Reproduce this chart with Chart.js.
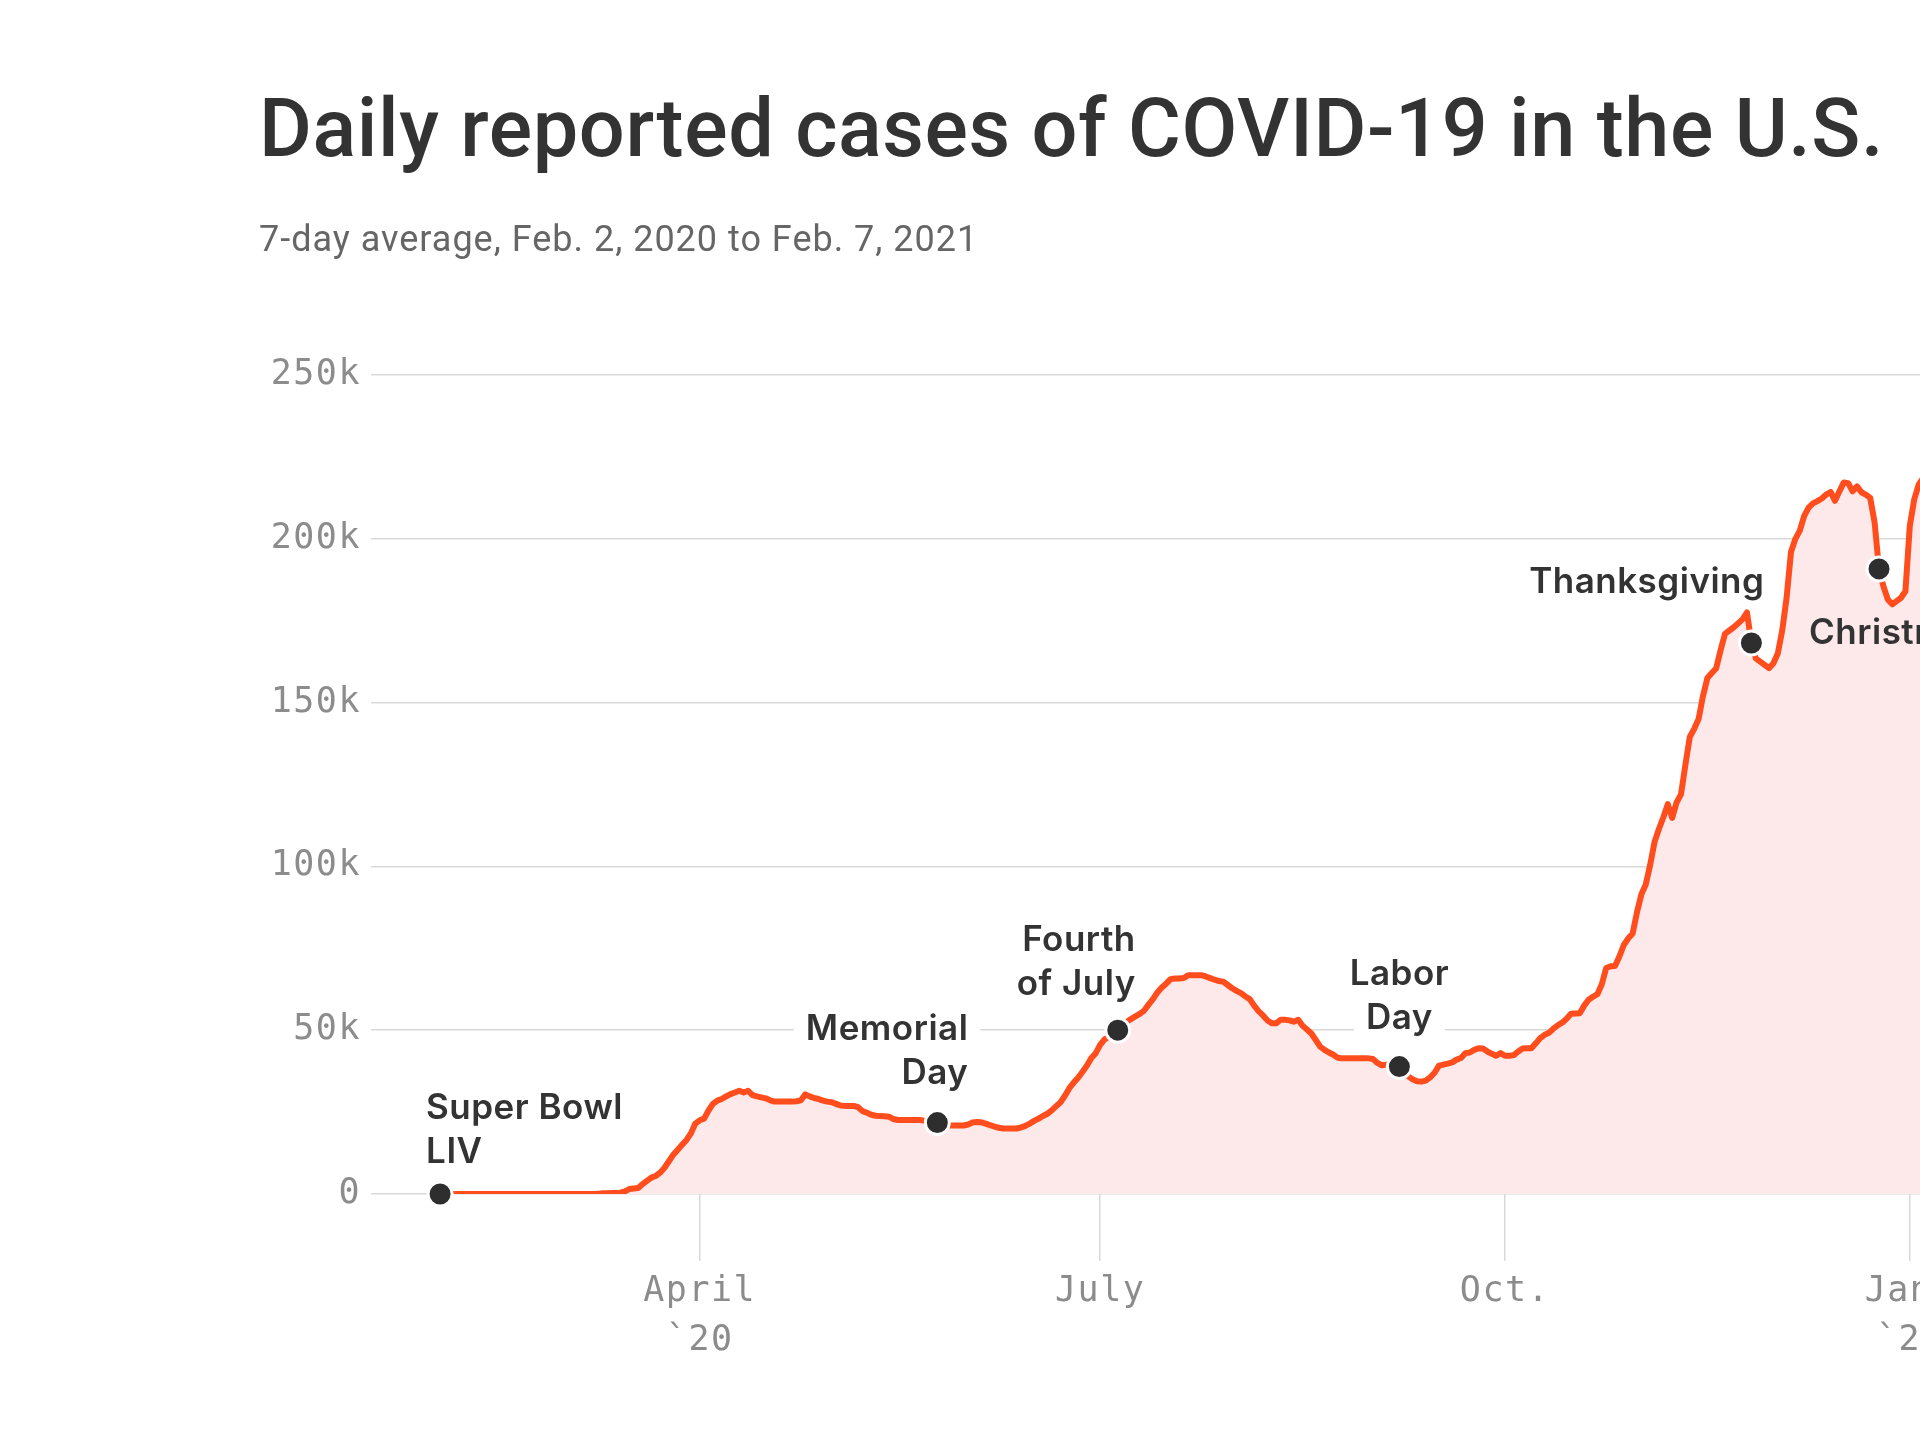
<!DOCTYPE html>
<html>
<head>
<meta charset="utf-8">
<script src="https://cdn.jsdelivr.net/npm/chart.js@4.4.1/dist/chart.umd.min.js"></script>
<style>
  html, body { margin:0; padding:0; background:#fff; overflow:hidden; width:1920px; height:1440px; }
  #wrap { position:relative; width:1920px; height:1440px; overflow:hidden; }
  #c { position:absolute; left:0; top:0; }
  #title { position:absolute; left:259px; top:88px; font-family:Roboto, sans-serif; font-weight:500;
           font-size:81px; line-height:81px; color:#333; white-space:nowrap; }
  #subtitle { position:absolute; left:259px; top:221px; font-family:Roboto, sans-serif; font-weight:400;
           font-size:36px; line-height:36px; color:#666; white-space:nowrap; }
</style>
</head>
<body>
<div id="wrap">
  <canvas id="c" width="2200" height="1440"></canvas>
  <div id="title">Daily reported cases of COVID-19 in the U.S.</div>
  <div id="subtitle">7-day average, Feb. 2, 2020 to Feb. 7, 2021</div>
</div>
<script>
// ---------- DATA ----------
const startDate = '2020-02-02';
// 7-day average of daily reported cases, in thousands, one value per day from Feb. 2, 2020 to Feb. 7, 2021
const casesK = [
  0,0,0,0,0,0,0,0,0,0, 0,0,0,0,0,0,0,0,0,0, 0,0,0,0,0,0,0,0,0,0, 0,0,0,0,0,0,0.1,0.2,0.2,0.3,
  0.3,0.4,0.8,1.5,1.7,1.8,3.0,4.0,5.0,5.5, 6.5,8.0,10.0,12.0,13.5,15.0,16.5,18.5,21.5,22.5,
  23.0,25.5,27.5,28.5,29.0,29.8,30.5,31.0,31.5,31.0, 31.5,30.2,29.8,29.5,29.2,28.6,28.2,28.2,28.2,28.2,
  28.2,28.3,28.6,30.4,29.8,29.3,29.0,28.5,28.2,28.0, 27.5,27.0,26.9,26.9,26.9,26.5,25.3,24.8,24.2,23.9,
  23.8,23.7,23.6,22.9,22.6,22.6,22.6,22.6,22.6,22.6, 22.4,22.0,21.9,21.8,21.3,21.0,20.9,20.9,20.9,20.9,
  21.2,21.8,22.0,21.9,21.5,21.0,20.6,20.2,20.0,20.0, 20.0,20.0,20.3,20.8,21.5,22.3,23.0,23.8,24.5,25.5,
  26.8,28.0,30.0,32.3,34.0,35.5,37.3,39.2,41.5,43.0, 45.5,47.2,48.0,49.0,50.0,51.2,52.5,53.4,54.2,55.0,
  56.0,57.8,59.5,61.5,63.0,64.2,65.6,65.8,65.8,65.9, 66.8,66.8,66.8,66.8,66.4,65.9,65.4,65.0,64.8,63.8,
  62.8,62.0,61.3,60.3,59.5,57.5,55.8,54.5,53.0,52.1, 52.1,53.2,53.2,53.0,52.6,53.2,51.4,50.2,49.0,47.0,
  45.0,44.0,43.2,42.5,41.6,41.4,41.4,41.4,41.4,41.4, 41.4,41.4,41.2,40.0,39.3,39.5,39.2,39.0,38.9,37.5,
  36.0,35.0,34.4,34.3,34.6,35.6,37.0,39.2,39.5,39.8, 40.2,41.0,41.5,43.0,43.2,44.0,44.5,44.4,43.5,42.8,
  42.2,43.0,42.2,42.2,42.4,43.5,44.4,44.5,44.5,46.0, 47.6,48.6,49.2,50.5,51.5,52.3,53.5,55.0,55.1,55.2,
  57.5,59.3,60.2,61.0,64.0,69.0,69.5,69.6,72.5,76.0, 78.0,79.5,86.0,91.5,94.5,100.5,107.5,111.5,115.0,119.0,
  114.8,119.5,122.0,131.0,139.5,142.0,145.0,152.0,157.5,159.0, 160.5,166.0,171.0,172.0,173.0,174.2,175.5,177.5,168.2,163.5,
  162.5,161.5,160.5,162.0,165.0,172.0,182.0,196.0,200.0,202.5, 207.0,209.5,210.8,211.5,212.3,213.5,214.3,211.6,214.5,217.2,
  217.0,214.5,216.0,214.2,213.5,212.5,205.0,190.8,185.5,181.5, 180.0,181.0,182.0,184.0,204.0,212.0,216.5,218.5,222,228,
  235,241,246,248,249,248.5,247,245,242,237, 231,224,217,209,199,192,187,182,177,171,
  164,157,151,147,143,139,135,131,127,123, 119,116
];
const yTicksK = [0, 50, 100, 150, 200, 250];
const xTickDates = ['2020-04-01', '2020-07-01', '2020-10-01', '2021-01-01'];
const xTickLabels = [['April', '`20'], ['July'], ['Oct.'], ['Jan.', '`21']];
const annoDates = ['2020-02-02', '2020-05-25', '2020-07-05', '2020-09-07', '2020-11-26', '2020-12-25'];
const annoLabels = [['Super Bowl', 'LIV'], ['Memorial', 'Day'], ['Fourth', 'of July'], ['Labor', 'Day'], ['Thanksgiving'], ['Christmas']];

// ---------- helpers ----------
const DAY = 86400000;
function dayIndex(d) { return Math.round((Date.parse(d + 'T00:00:00Z') - Date.parse(startDate + 'T00:00:00Z')) / DAY); }
const xTickDays = xTickDates.map(dayIndex);
const annoDays = annoDates.map(dayIndex);
const linePoints = casesK.map((v, i) => ({ x: i, y: v }));
const annoPoints = annoDays.map(d => ({ x: d, y: casesK[d] }));

// label placement (style, not data): baseline of last line relative to dot
const annoPlacement = [
  { align: 'left',   dx: -14, dy: -31 },
  { align: 'right',  dx: 31,  dy: -39 },
  { align: 'right',  dx: 18,  dy: -35 },
  { align: 'center', dx: 0,   dy: -38 },
  { align: 'right',  dx: 13,  dy: -50 },
  { align: 'left',   dx: -70, dy: 75 }
];
const LABEL_FONT = '600 35px Inter';
const LABEL_SPACING = '0.5px';
const LABEL_LH = 44;

function labelLayout(chart) {
  const meta = chart.getDatasetMeta(0);
  const out = [];
  meta.data.forEach((pt, k) => {
    const p = annoPlacement[k];
    const lines = annoLabels[k];
    lines.forEach((txt, j) => {
      out.push({ txt, align: p.align, x: pt.x + p.dx, y: pt.y + p.dy - (lines.length - 1 - j) * LABEL_LH });
    });
  });
  return out;
}

const tickSpacing = {
  id: 'tickSpacing',
  beforeDraw(chart) { chart.ctx.letterSpacing = '1.5px'; },
  beforeDatasetsDraw(chart) { chart.ctx.letterSpacing = '0px'; }
};

const annoPlugin = {
  id: 'anno',
  beforeDatasetsDraw(chart) {
    const ctx = chart.ctx;
    ctx.save();
    ctx.font = LABEL_FONT;
    ctx.letterSpacing = LABEL_SPACING;
    ctx.fillStyle = '#ffffff';
    labelLayout(chart).forEach(l => {
      const w = ctx.measureText(l.txt).width;
      let left = l.align === 'left' ? l.x : l.align === 'right' ? l.x - w : l.x - w / 2;
      ctx.fillRect(left - 12, l.y - 34, w + 24, 46);
    });
    ctx.restore();
  },
  afterDatasetsDraw(chart) {
    const ctx = chart.ctx;
    ctx.save();
    ctx.font = LABEL_FONT;
    ctx.letterSpacing = LABEL_SPACING;
    ctx.fillStyle = '#333333';
    ctx.textBaseline = 'alphabetic';
    labelLayout(chart).forEach(l => {
      ctx.textAlign = l.align;
      ctx.fillText(l.txt, l.x, l.y);
    });
    ctx.restore();
  }
};

const tickFont = { family: 'DejaVu Sans Mono', size: 35, lineHeight: 1.4 };

function build() {
  new Chart(document.getElementById('c'), {
    type: 'line',
    data: {
      datasets: [
        { type: 'scatter', data: annoPoints, pointRadius: 12, pointHoverRadius: 12,
          pointBackgroundColor: '#2e2e2e', pointBorderColor: '#ffffff', pointBorderWidth: 3,
          showLine: false, clip: false, order: 0 },
        { type: 'line', data: linePoints, borderColor: '#ff4d1d', borderWidth: 6,
          backgroundColor: '#fde9e9', fill: 'origin', pointRadius: 0, tension: 0,
          borderJoinStyle: 'round', borderCapStyle: 'round', order: 1 }
      ]
    },
    options: {
      responsive: false, animation: false, devicePixelRatio: 1, events: [],
      layout: { padding: { top: 375, right: 20, left: 0, bottom: 0 } },
      plugins: { legend: { display: false }, tooltip: { enabled: false }, title: { display: false } },
      scales: {
        x: {
          type: 'linear', min: -15.7, max: 395.4,
          border: { display: false },
          grid: { display: true, drawOnChartArea: false, drawTicks: true, tickLength: 67, color: '#d9d9d9', lineWidth: 1.5 },
          ticks: { autoSkip: false, maxRotation: 0, minRotation: 0, padding: 6, color: '#8c8c8c', font: tickFont,
                   callback: (v, i) => xTickLabels[i] },
          afterBuildTicks: s => { s.ticks = xTickDays.map(v => ({ value: v })); },
          afterFit: s => { s.height = 246; }
        },
        y: {
          min: 0, max: 250,
          border: { display: false },
          grid: { color: '#d9d9d9', lineWidth: 1.5, drawTicks: false },
          ticks: { padding: 10, color: '#8c8c8c', font: { family: 'DejaVu Sans Mono', size: 35 },
                   callback: v => (v === 0 ? '0' : v + 'k') },
          afterBuildTicks: s => { s.ticks = yTicksK.map(v => ({ value: v })); },
          afterFit: s => { s.width = 371; }
        }
      }
    },
    plugins: [tickSpacing, annoPlugin]
  });
}

function fitText(el, inkWidth) {
  const ctx = document.createElement('canvas').getContext('2d');
  const cs = getComputedStyle(el);
  ctx.font = cs.fontWeight + ' ' + cs.fontSize + ' ' + cs.fontFamily;
  const m = ctx.measureText(el.textContent);
  const ink = m.actualBoundingBoxLeft + m.actualBoundingBoxRight;
  const n = el.textContent.length;
  el.style.letterSpacing = ((inkWidth - ink) / (n - 1)) + 'px';
}

document.fonts.ready.then(() => {
  fitText(document.getElementById('title'), 1614);
  fitText(document.getElementById('subtitle'), 710);
  build();
});
</script>
</body>
</html>
